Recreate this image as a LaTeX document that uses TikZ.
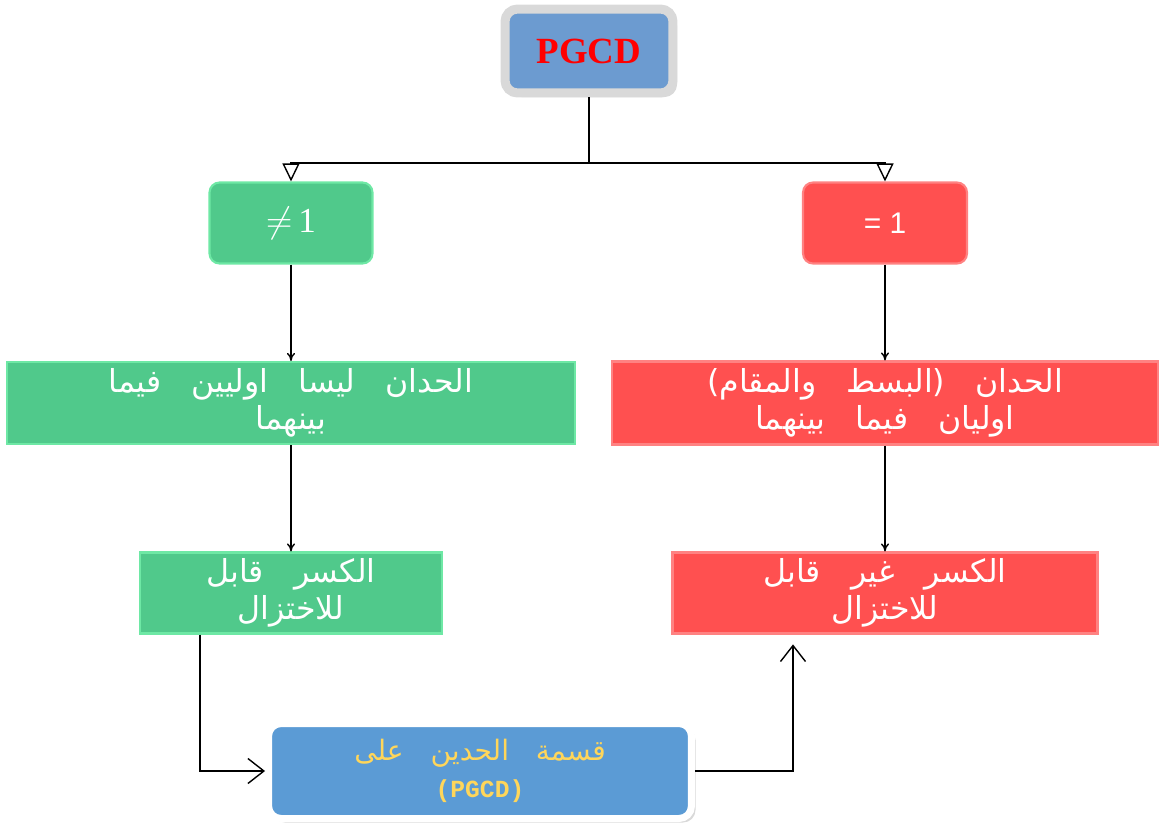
\documentclass[tikz,border=0pt]{standalone}
\usepackage{fontspec}
\setmainfont{Liberation Serif}
\newfontfamily\arabicfont[Script=Arabic,WordSpace=3]{DejaVu Sans}
\newfontfamily\sansfont{Liberation Sans}
\newfontfamily\monofont{Liberation Mono}
\TeXXeTstate=1
\usetikzlibrary{arrows.meta,shadows}
\definecolor{vert}{RGB}{80,201,139}
\definecolor{vertclair}{RGB}{110,232,165}
\definecolor{rouge}{RGB}{255,80,80}
\definecolor{rougeclair}{RGB}{255,130,130}
\definecolor{bleu}{RGB}{91,155,213}
\definecolor{bleugris}{RGB}{108,155,208}
\definecolor{dore}{RGB}{255,214,90}
\tikzset{
  boite/.style={rectangle, text=white, align=center, inner sep=0pt, line width=1.2pt},
  vboite/.style={boite, fill=vert, draw=vertclair},
  rboite/.style={boite, fill=rouge, draw=rougeclair},
  ar/.style={font=\arabicfont\fontsize{18}{21}\selectfont},
  tri/.style={-{Triangle[open,length=0.36cm,width=0.34cm]}},
  fl/.style={-{To[length=0.16cm,width=0.16cm]}},
  barb/.style={-{Straight Barb[length=0.32cm,width=0.5cm]}},
}
\begin{document}
\begin{tikzpicture}[x=0.02cm, y=-0.02cm, line width=0.8pt]
\useasboundingbox (0,0) rectangle (1159,825);
% PGCD
\node[rectangle, rounded corners=0.25cm, fill=bleugris, draw=gray!30, line width=0.18cm,
  minimum width=3.36cm, minimum height=1.68cm, drop shadow={opacity=0.3},
  text=red, font=\bfseries\fontsize{21}{24}\selectfont] (p) at (589,51) {PGCD};
% niveau 1
\node[vboite, rounded corners=0.2cm, minimum width=3.26cm, minimum height=1.62cm,
  font=\fontsize{20}{22}\selectfont] (g1) at (291,223) {$\neq$\,1};
\node[rboite, rounded corners=0.2cm, minimum width=3.28cm, minimum height=1.62cm,
  font=\sansfont\fontsize{17}{20}\selectfont] (r1) at (885,223) {= 1};
% niveau 2
\node[vboite, ar, minimum width=11.36cm, minimum height=1.64cm] (g2) at (291,403)
  {\beginR الحدان ليسا اوليين فيما\endR\\\beginR بينهما\endR};
\node[rboite, ar, minimum width=10.94cm, minimum height=1.66cm] (r2) at (885,403)
  {\beginR الحدان (البسط والمقام)\endR\\\beginR اوليان فيما بينهما\endR};
% niveau 3
\node[vboite, ar, minimum width=6.04cm, minimum height=1.62cm] (g3) at (291,593)
  {\beginR الكسر قابل\endR\\\beginR للاختزال\endR};
\node[rboite, ar, minimum width=8.5cm, minimum height=1.62cm] (r3) at (885,593)
  {\beginR الكسر غير قابل\endR\\\beginR للاختزال\endR};
% division
\node[rectangle, rounded corners=0.25cm, fill=bleu, draw=white, line width=0.14cm,
  minimum width=8.46cm, minimum height=1.9cm, drop shadow={opacity=0.3},
  text=dore, align=center, font=\arabicfont\fontsize{16}{21}\selectfont] (q) at (480,771)
  {\beginR قسمة الحدين على\endR\\{\monofont\bfseries\fontsize{14}{16}\selectfont (PGCD)}};
% liaisons
\coordinate (j) at (589,163);
\coordinate (a) at (200,0);
\coordinate (b) at (793,0);
\draw (p) -- (j);
\draw[tri] (j) -| (g1);
\draw[tri] (j) -| (r1);
\draw[fl] (g1) -- (g2);
\draw[fl] (r1) -- (r2);
\draw[fl] (g2) -- (g3);
\draw[fl] (r2) -- (r3);
\draw[barb] (g3.south -| a) |- (q);
\draw[barb, shorten >=7\pgflinewidth] (q) -| (r3.south -| b);
\end{tikzpicture}
\end{document}
